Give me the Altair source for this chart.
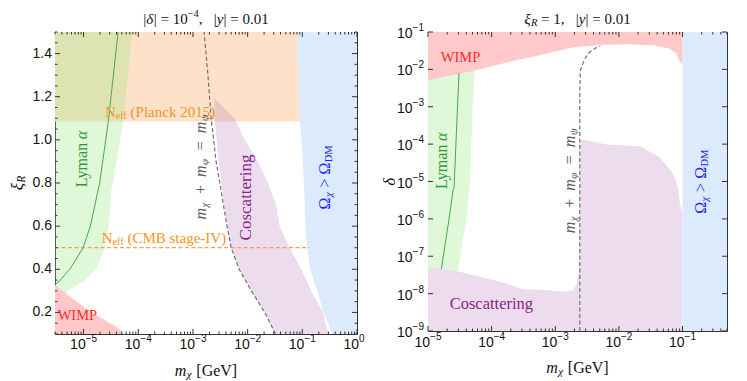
import altair as alt
import pandas as pd

SERIF = "Liberation Serif"
SANS = "Liberation Sans"

# ======================= LEFT PANEL  (|delta| = 1e-4, |y| = 0.01) =======================
L_XDOM = [3e-6, 1.0]
L_YDOM = [0.1, 1.5]

# Neff (Planck 2015) excluded band
planck_xi_lo = [1.085]
planck_xi_hi = [1.5]
planck_m_lo = [3e-6]
planck_m_hi = [0.09]

# Lyman-alpha band (right edge in m_chi for each xi_R)
lya_xi = [0.284, 0.300, 0.315, 0.331, 0.354, 0.40, 0.50, 0.60, 0.764, 0.80, 1.085, 1.506]
lya_m_hi = [4.6e-6, 5.0e-6, 6.4e-6, 8.0e-6, 1.12e-5, 1.7e-5, 2.43e-5, 2.9e-5, 3.2e-5, 3.44e-5, 5.3e-5, 7.8e-5]

# Lyman-alpha line
lyaline_xi = [0.33, 0.354, 0.377, 0.40, 0.439, 0.50, 0.60, 0.764, 0.80, 1.085, 1.506]
lyaline_m = [3.1e-6, 3.9e-6, 4.6e-6, 5.6e-6, 7.0e-6, 9.8e-6, 1.33e-5, 1.83e-5, 1.97e-5, 2.83e-5, 4.3e-5]

# WIMP region (top edge)
wimpL_m = [3e-6, 4.57e-6, 6.97e-6, 1.06e-5, 1.61e-5, 2.46e-5, 3.75e-5, 4.97e-5, 5.3e-5]
wimpL_xi = [0.327, 0.292, 0.256, 0.222, 0.191, 0.164, 0.137, 0.114, 0.1]

# Coscattering band
cosL_xi = [1.196, 1.1, 1.0, 0.9, 0.8, 0.7, 0.6, 0.5, 0.4, 0.3, 0.2, 0.1]
cosL_m_lo = [2.42e-3, 2.5e-3, 2.7e-3, 2.95e-3, 3.3e-3, 3.7e-3, 4.25e-3, 5.0e-3, 7.0e-3, 1.17e-2, 2.05e-2, 3.25e-2]
cosL_m_hi = [2.42e-3, 5.7e-3, 8.8e-3, 1.54e-2, 2.35e-2, 3.3e-2, 3.85e-2, 5.86e-2, 9.55e-2, 0.145, 0.238, 0.30]

# Omega_chi > Omega_DM (left edge)
omL_xi = [0.1, 0.2, 0.3, 0.4, 0.5, 0.6, 0.8, 1.0, 1.085, 1.3, 1.5]
omL_m = [0.355, 0.245, 0.186, 0.14, 0.122, 0.114, 0.107, 0.097, 0.09, 0.084, 0.080]

# m_chi + m_phi = m_psi
kinL_xi = [1.5, 1.3, 1.1, 0.9, 0.8, 0.7, 0.6, 0.5, 0.4, 0.3, 0.2, 0.1]
kinL_m = [1.6e-3, 1.88e-3, 2.15e-3, 2.65e-3, 3.1e-3, 3.6e-3, 4.2e-3, 5.0e-3, 7.0e-3, 1.17e-2, 2.05e-2, 3.25e-2]

# Neff CMB stage-IV line
s4_xi = [0.5]
s4_m = [3e-6]
s4_m2 = [0.136]

L_XMAJ = [1e-5, 1e-4, 1e-3, 1e-2, 1e-1, 1.0]
L_XEXP = ["\u22125", "\u22124", "\u22123", "\u22122", "\u22121", "0"]
L_YMAJ = [0.2, 0.4, 0.6, 0.8, 1.0, 1.2, 1.4]
L_YLAB = ["0.2", "0.4", "0.6", "0.8", "1.0", "1.2", "1.4"]

# ======================= RIGHT PANEL  (xi_R = 1, |y| = 0.01) =======================
R_XDOM = [1e-5, 0.5]
R_YDOM = [1e-9, 0.1]

wimpR_m = [1e-5, 1.53e-5, 5.42e-5, 3.12e-4, 6.43e-4, 1.91e-3, 5.0e-3, 1.31e-2, 3.45e-2, 6.3e-2, 8.0e-2, 9.0e-2, 0.1]
wimpR_d = [5.07e-3, 5.97e-3, 9.4e-3, 1.93e-2, 2.51e-2, 3.89e-2, 4.52e-2, 4.68e-2, 4.40e-2, 3.57e-2, 2.63e-2, 1.58e-2, 1.35e-2]

lyaR_d = [3.16e-8, 4.07e-8, 1.03e-7, 9.9e-7, 6.97e-6, 1.02e-4, 1.47e-3, 9.4e-3, 1.0e-2]
lyaR_m_hi = [2.9e-5, 2.96e-5, 3.22e-5, 4.0e-5, 4.52e-5, 4.8e-5, 5.1e-5, 5.42e-5, 5.45e-5]

lyalineR_m = [3.07e-5, 2.79e-5, 2.57e-5, 2.47e-5, 2.14e-5, 1.62e-5]
lyalineR_d = [7.96e-3, 1.88e-4, 6.97e-6, 5.69e-6, 9.9e-7, 4.52e-8]

cosR_m = [1e-5, 1.72e-5, 3.55e-5, 7.33e-5, 1.51e-4, 3.12e-4, 6.43e-4, 1.33e-3, 1.91e-3, 2.15e-3, 2.28e-3,
          2.40e-3, 2.43e-3, 2.73e-3, 6.37e-3, 2.13e-2, 4.4e-2, 7.11e-2, 8.53e-2, 9.08e-2, 0.1]
cosR_d = [4.99e-8, 4.52e-8, 3.66e-8, 2.69e-8, 1.98e-8, 1.31e-8, 1.26e-8, 1.13e-8, 1.24e-8, 1.79e-8, 3.31e-8,
          4.5e-8, 1.26e-4, 1.30e-4, 9.73e-5, 8.77e-5, 4.45e-5, 1.6e-5, 6.97e-6, 2.5e-6, 1.5e-6]

kinR_m = [2.43e-3, 2.43e-3, 2.48e-3, 2.91e-3, 3.48e-3, 4.43e-3, 5.12e-3]
kinR_d = [1e-9, 2.7e-3, 9.4e-3, 1.93e-2, 2.91e-2, 3.82e-2, 4.22e-2]

omR_m = [0.1]
omR_m2 = [0.5]

R_XMAJ = [1e-5, 1e-4, 1e-3, 1e-2, 1e-1]
R_XEXP = ["\u22125", "\u22124", "\u22123", "\u22122", "\u22121"]
R_YMAJ = [1e-9, 1e-8, 1e-7, 1e-6, 1e-5, 1e-4, 1e-3, 1e-2, 1e-1]
R_YEXP = ["\u22129", "\u22128", "\u22127", "\u22126", "\u22125", "\u22124", "\u22123", "\u22122", "\u22121"]

# ======================= styling =======================
ORANGE_FILL = "#fde1c8"
GREEN_BASE = "#94e884"   # used at opacity 0.3
PURPLE_BASE = "#c08ac6"  # used at opacity 0.3
GREEN_FILL = "#dff8da"
PURPLE_FILL = "#ecdcee"
RED_FILL = "#ffc9c9"
BLUE_FILL = "#dcebfc"
FRAME = "#333333"

C_ORANGE = "#f7941d"
C_GREEN = "#2f9a2f"
C_GRAY = "#5a5a5a"
C_PURPLE = "#8b1c8b"
C_BLUE = "#1f1fff"
C_RED = "#ff2a2a"

SERIF_EM = {' ': .25, '|': .2, '=': .564, '+': .564, '>': .564, '\u2212': .564, ',': .25, '.': .25,
            '(': .333, ')': .333, '[': .333, ']': .333, '-': .333,
            'a': .444, 'b': .5, 'c': .444, 'd': .5, 'e': .444, 'f': .333, 'g': .5, 'h': .5, 'i': .278,
            'k': .5, 'l': .278, 'm': .75, 'n': .5, 'o': .5, 'p': .5, 'r': .333, 's': .389, 't': .278,
            'u': .5, 'v': .5, 'y': .45, 'C': .667, 'D': .722, 'G': .722, 'I': .333, 'L': .611, 'M': .889,
            'N': .722, 'P': .556, 'R': .611, 'S': .556, 'V': .722, 'W': .944, 'B': .667,
            '\u03b1': .55, '\u03c7': .5, '\u03c6': .6, '\u03c8': .65, '\u03a9': .77, '\u03b4': .5, '\u03be': .45}
SANS_EM = {'.': .278, '\u2212': .584}


def tw(s, fs, sans=False):
    if sans:
        return sum(SANS_EM.get(c, .556) for c in s) * fs
    return sum(SERIF_EM.get(c, .5) for c in s) * fs


ONE = pd.DataFrame({"k": [0]})


def X(field, sc):
    return alt.X(field, scale=sc, axis=None)


def Y(field, sc):
    return alt.Y(field, scale=sc, axis=None)


def rich(pieces, enc, df, color, angle=0):
    """pieces: (text, size, dy, italic). Centered at the anchor; dx runs along the text."""
    total = sum(tw(p[0], p[1]) for p in pieces)
    off = -total / 2
    out = []
    for t, fs, dy, it in pieces:
        lead = len(t) - len(t.lstrip(' '))
        txt = t.strip(' ')
        if txt:
            out.append(
                alt.Chart(df).mark_text(
                    text=txt, font=SERIF, fontSize=fs, fontStyle="italic" if it else "normal",
                    align="left", baseline="middle", dx=off + lead * .25 * fs, dy=dy,
                    angle=angle, color=color,
                ).encode(**enc)
            )
        off += tw(t, fs)
    return out


def anchor(x, y, xs, ys):
    df = pd.DataFrame({"x": [x], "y": [y]})
    return df, {"x": X("x:Q", xs), "y": Y("y:Q", ys)}


def pix(px, py):
    return ONE, {"x": alt.value(px), "y": alt.value(py)}


def ticks_x(vals, xs, W, H, L):
    df = pd.DataFrame({"v": vals})
    b = alt.Chart(df).mark_rule(color=FRAME, strokeWidth=1)
    return [
        b.encode(x=X("v:Q", xs), y=alt.value(H), y2=alt.value(H - L)),
        b.encode(x=X("v:Q", xs), y=alt.value(0), y2=alt.value(L)),
    ]


def ticks_y(vals, ys, W, H, L):
    df = pd.DataFrame({"v": vals})
    b = alt.Chart(df).mark_rule(color=FRAME, strokeWidth=1)
    return [
        b.encode(y=Y("v:Q", ys), x=alt.value(0), x2=alt.value(L)),
        b.encode(y=Y("v:Q", ys), x=alt.value(W), x2=alt.value(W - L)),
    ]


def pow_labels_x(vals, exps, xs, H, fs=14, efs=10, yoff=11):
    df = pd.DataFrame({"v": vals, "e": exps})
    c = (tw("10", fs, True) - tw("\u22125", efs, True)) / 2
    enc = dict(x=X("v:Q", xs), y=alt.value(H + yoff))
    a = alt.Chart(df).mark_text(text="10", font=SANS, fontSize=fs, align="right", baseline="middle",
                                dx=c, color="#111").encode(**enc)
    b = alt.Chart(df).mark_text(font=SANS, fontSize=efs, align="left", baseline="middle",
                                dx=c, dy=-6, color="#111").encode(text="e:N", **enc)
    return [a, b]


# ======================= build left panel =======================
LW, LH = 302, 302
lxs = alt.Scale(type="log", domain=L_XDOM, nice=False)
lys = alt.Scale(domain=L_YDOM, nice=False, zero=False)

left_layers = []
left_layers.append(alt.Chart(pd.DataFrame({"m": planck_m_lo, "m2": planck_m_hi, "xi": planck_xi_lo, "xi2": planck_xi_hi}))
                   .mark_rect(color=ORANGE_FILL)
                   .encode(x=X("m:Q", lxs), x2="m2:Q", y=Y("xi:Q", lys), y2="xi2:Q"))
left_layers.append(alt.Chart(pd.DataFrame({"xi": lya_xi, "m": lya_m_hi}))
                   .mark_area(orient="horizontal", color=GREEN_BASE, opacity=0.3, clip=True)
                   .encode(y=Y("xi:Q", lys), x=X("m:Q", lxs), x2=alt.datum(3e-6)))
left_layers.append(alt.Chart(pd.DataFrame({"m": wimpL_m, "xi": wimpL_xi}))
                   .mark_area(orient="vertical", color=RED_FILL, clip=True)
                   .encode(x=X("m:Q", lxs), y=Y("xi:Q", lys), y2=alt.datum(0.1)))
left_layers.append(alt.Chart(pd.DataFrame({"xi": cosL_xi, "lo": cosL_m_lo, "hi": cosL_m_hi}))
                   .mark_area(orient="horizontal", color=PURPLE_BASE, opacity=0.3, clip=True)
                   .encode(y=Y("xi:Q", lys), x=X("lo:Q", lxs), x2="hi:Q"))
left_layers.append(alt.Chart(pd.DataFrame({"xi": omL_xi, "m": omL_m}))
                   .mark_area(orient="horizontal", color=BLUE_FILL, clip=True)
                   .encode(y=Y("xi:Q", lys), x=X("m:Q", lxs), x2=alt.datum(1.0)))
left_layers.append(alt.Chart(pd.DataFrame({"m": s4_m, "m2": s4_m2, "xi": s4_xi}))
                   .mark_rule(color="#f5a04a", strokeWidth=1.2, strokeDash=[4, 2.5])
                   .encode(x=X("m:Q", lxs), x2="m2:Q", y=Y("xi:Q", lys)))
left_layers.append(alt.Chart(pd.DataFrame({"m": lyaline_m, "xi": lyaline_xi}))
                   .mark_line(color="#4aa84a", strokeWidth=1, clip=True)
                   .encode(x=X("m:Q", lxs), y=Y("xi:Q", lys), order="xi:Q"))
left_layers.append(alt.Chart(pd.DataFrame({"m": kinL_m, "xi": kinL_xi}))
                   .mark_line(color="#707070", strokeWidth=1.2, strokeDash=[4, 2.5], clip=True)
                   .encode(x=X("m:Q", lxs), y=Y("xi:Q", lys), order="xi:Q"))

L_XMIN = [k * 10.0 ** e for e in range(-6, 0) for k in range(2, 10) if L_XDOM[0] <= k * 10.0 ** e <= 1]
L_YMIN = [round(0.1 + 0.05 * i, 2) for i in range(29) if round(0.1 + 0.05 * i, 2) not in L_YMAJ]
left_layers += ticks_x(L_XMAJ, lxs, LW, LH, 5) + ticks_x(L_XMIN, lxs, LW, LH, 2.5)
left_layers += ticks_y(L_YMAJ, lys, LW, LH, 5) + ticks_y(L_YMIN, lys, LW, LH, 2.5)

left_layers += pow_labels_x(L_XMAJ, L_XEXP, lxs, LH, yoff=11)
left_layers.append(alt.Chart(pd.DataFrame({"v": L_YMAJ, "t": L_YLAB}))
                   .mark_text(font=SANS, fontSize=14, align="right", baseline="middle", color="#111")
                   .encode(y=Y("v:Q", lys), x=alt.value(-3), text="t:N"))

# titles / axis titles
df, enc = pix(LW / 2, -13)
left_layers += rich([("|", 15, 0, False), ("\u03b4", 15, 0, True), ("| = 10", 15, 0, False),
                     ("\u22124", 10.5, -5, False), (",", 15, 0, False), ("   |", 15, 0, False), ("y", 15, 0, True),
                     ("| = 0.01", 15, 0, False)], enc, df, "#111")
df, enc = pix(LW / 2, LH + 37)
left_layers += rich([("m", 16, 0, True), ("\u03c7", 11, 4, True), (" [GeV]", 16, 0, False)], enc, df, "#111")
df, enc = pix(-37, LH / 2)
left_layers += rich([("\u03be", 17, 0, True), ("R", 11.5, 4, True)], enc, df, "#111", angle=270)

# region labels
df, enc = anchor(2.5e-4, 1.13, lxs, lys)
left_layers += rich([("N", 15, 0, False), ("eff", 10, 4, False), (" (Planck 2015)", 15, 0, False)], enc, df, C_ORANGE)
df, enc = anchor(2.95e-4, 0.547, lxs, lys)
left_layers += rich([("N", 15, 0, False), ("eff", 10, 4, False), (" (CMB stage-IV)", 15, 0, False)], enc, df, C_ORANGE)
df, enc = anchor(9.35e-6, 0.912, lxs, lys)
left_layers += rich([("Lyman", 16, 0, False), (" \u03b1", 16, 0, True)], enc, df, C_GREEN, angle=270)
df, enc = anchor(1.42e-3, 0.875, lxs, lys)
left_layers += rich([("m", 16, 0, True), ("\u03c7", 11, 4, True), ("  +", 16, 0, False), ("  m", 16, 0, True),
                     ("\u03c6", 11, 4, True), ("  =", 16, 0, False), ("  m", 16, 0, True), ("\u03c8", 11, 4, True)],
                    enc, df, C_GRAY, angle=270)
df, enc = anchor(9.4e-3, 0.733, lxs, lys)
left_layers += rich([("Coscattering", 17, 0, False)], enc, df, C_PURPLE, angle=270)
df, enc = anchor(0.259, 0.826, lxs, lys)
left_layers += rich([("\u03a9", 16, 0, False), ("\u03c7", 11, 4, True), (" >", 16, 0, False),
                     (" \u03a9", 16, 0, False), ("DM", 10.5, 4, False)], enc, df, C_BLUE, angle=270)
df, enc = anchor(7.7e-6, 0.1835, lxs, lys)
left_layers += rich([("WIMP", 14.5, 0, False)], enc, df, C_RED)

left = alt.layer(*left_layers).properties(width=LW, height=LH)

# ======================= build right panel =======================
RW, RH = 299, 299
rxs = alt.Scale(type="log", domain=R_XDOM, nice=False)
rys = alt.Scale(type="log", domain=R_YDOM, nice=False)

right_layers = []
right_layers.append(alt.Chart(pd.DataFrame({"d": lyaR_d, "m": lyaR_m_hi}))
                    .mark_area(orient="horizontal", color=GREEN_FILL, clip=True)
                    .encode(y=Y("d:Q", rys), x=X("m:Q", rxs), x2=alt.datum(1e-5)))
right_layers.append(alt.Chart(pd.DataFrame({"m": cosR_m, "d": cosR_d}))
                    .mark_area(orient="vertical", color=PURPLE_FILL, clip=True)
                    .encode(x=X("m:Q", rxs), y=Y("d:Q", rys), y2=alt.datum(1e-9)))
right_layers.append(alt.Chart(pd.DataFrame({"m": wimpR_m, "d": wimpR_d}))
                    .mark_area(orient="vertical", color=RED_FILL, clip=True)
                    .encode(x=X("m:Q", rxs), y=Y("d:Q", rys), y2=alt.datum(0.1)))
right_layers.append(alt.Chart(pd.DataFrame({"m": omR_m, "m2": omR_m2, "d": [R_YDOM[0]], "d2": [R_YDOM[1]]}))
                    .mark_rect(color=BLUE_FILL)
                    .encode(x=X("m:Q", rxs), x2="m2:Q", y=Y("d:Q", rys), y2="d2:Q"))
right_layers.append(alt.Chart(pd.DataFrame({"m": lyalineR_m, "d": lyalineR_d}))
                    .mark_line(color="#4aa84a", strokeWidth=1, clip=True)
                    .encode(x=X("m:Q", rxs), y=Y("d:Q", rys), order="d:Q"))
right_layers.append(alt.Chart(pd.DataFrame({"m": kinR_m, "d": kinR_d}))
                    .mark_line(color="#707070", strokeWidth=1.2, strokeDash=[4, 2.5], clip=True)
                    .encode(x=X("m:Q", rxs), y=Y("d:Q", rys), order="d:Q"))

R_XMIN = [k * 10.0 ** e for e in range(-5, 0) for k in range(2, 10) if k * 10.0 ** e <= R_XDOM[1]]
right_layers += ticks_x(R_XMAJ, rxs, RW, RH, 5) + ticks_x(R_XMIN, rxs, RW, RH, 2.5)
right_layers += ticks_y(R_YMAJ, rys, RW, RH, 5)

right_layers += pow_labels_x(R_XMAJ, R_XEXP, rxs, RH, yoff=12)
wexp = tw("\u22125", 10, True)
ydf = pd.DataFrame({"v": R_YMAJ, "e": R_YEXP})
right_layers.append(alt.Chart(ydf).mark_text(text="10", font=SANS, fontSize=14, align="right", baseline="middle",
                                             dy=2, color="#111")
                    .encode(y=Y("v:Q", rys), x=alt.value(-4 - wexp)))
right_layers.append(alt.Chart(ydf).mark_text(font=SANS, fontSize=10, align="right", baseline="middle",
                                             dy=-4, color="#111")
                    .encode(y=Y("v:Q", rys), x=alt.value(-4), text="e:N"))

df, enc = pix(RW / 2, -13)
right_layers += rich([("\u03be", 15, 0, True), ("R", 10.5, 4, True), (" = 1,", 15, 0, False), ("   |", 15, 0, False),
                      ("y", 15, 0, True), ("| = 0.01", 15, 0, False)], enc, df, "#111")
df, enc = pix(RW / 2, RH + 37)
right_layers += rich([("m", 16, 0, True), ("\u03c7", 11, 4, True), (" [GeV]", 16, 0, False)], enc, df, "#111")
df, enc = pix(-38, RH / 2)
right_layers += rich([("\u03b4", 17, 0, True)], enc, df, "#111", angle=270)

df, enc = anchor(3.24e-5, 1.97e-2, rxs, rys)
right_layers += rich([("WIMP", 14.5, 0, False)], enc, df, C_RED)
df, enc = anchor(1.66e-5, 3.62e-5, rxs, rys)
right_layers += rich([("Lyman", 16, 0, False), (" \u03b1", 16, 0, True)], enc, df, C_GREEN, angle=270)
df, enc = anchor(1.69e-3, 1.05e-5, rxs, rys)
right_layers += rich([("m", 16, 0, True), ("\u03c7", 11, 4, True), ("  +", 16, 0, False), ("  m", 16, 0, True),
                      ("\u03c6", 11, 4, True), ("  =", 16, 0, False), ("  m", 16, 0, True), ("\u03c8", 11, 4, True)],
                     enc, df, C_GRAY, angle=270)
df, enc = anchor(0.198, 9.9e-6, rxs, rys)
right_layers += rich([("\u03a9", 16, 0, False), ("\u03c7", 11, 4, True), (" >", 16, 0, False),
                      (" \u03a9", 16, 0, False), ("DM", 10.5, 4, False)], enc, df, C_BLUE, angle=270)
df, enc = anchor(9.9e-5, 5.2e-9, rxs, rys)
right_layers += rich([("Coscattering", 16.5, 0, False)], enc, df, C_PURPLE)

right = alt.layer(*right_layers).properties(width=RW, height=RH)

chart = (
    alt.hconcat(left, right, spacing=71, bounds="flush", padding=0)
    .configure_view(stroke=FRAME, strokeWidth=1)
)

chart.save("out.html", embed_options={"renderer": "svg", "actions": False})
